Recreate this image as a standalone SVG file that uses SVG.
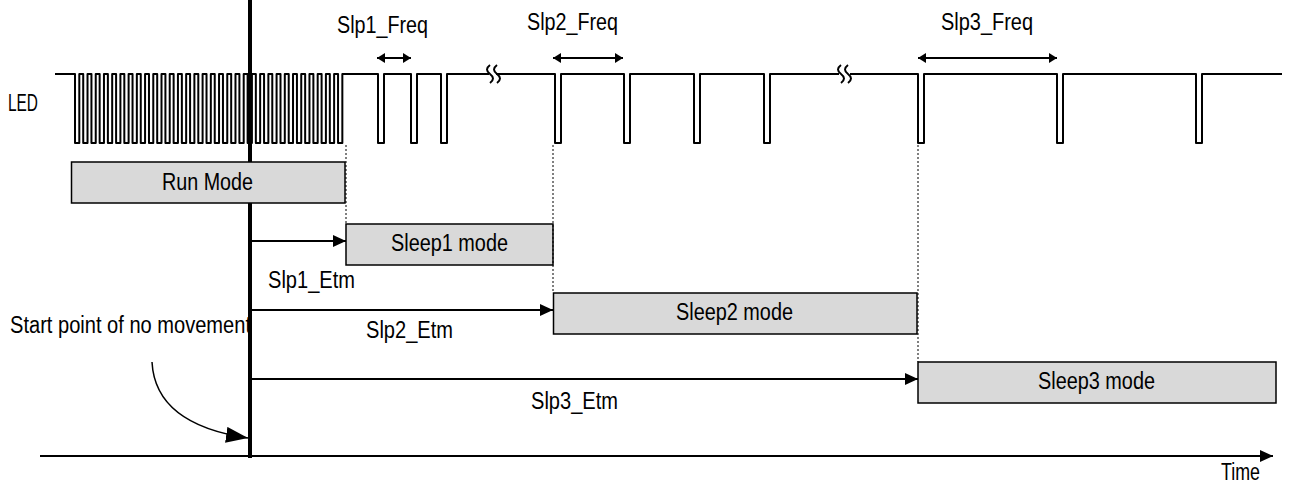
<svg xmlns="http://www.w3.org/2000/svg" width="1289" height="493" viewBox="0 0 1289 493">
<style>
text{font-family:"Liberation Sans",Arial,sans-serif;font-size:23px;fill:#000}
.wave{fill:none;stroke:#000;stroke-width:2;stroke-linejoin:round}
.box{fill:#d9d9d9;stroke:#000;stroke-width:1.5}
.dot{stroke:#000;stroke-width:1;stroke-dasharray:2,2;fill:none}
.arr{stroke:#000;stroke-width:2;fill:none}
</style>
<defs>
<marker id="ah" markerUnits="userSpaceOnUse" markerWidth="14" markerHeight="12" refX="13" refY="6" orient="auto"><path d="M0,0 L13,6 L0,12 z" fill="#000"/></marker>
<marker id="dh" markerUnits="userSpaceOnUse" markerWidth="9" markerHeight="10" refX="8" refY="5" orient="auto-start-reverse"><path d="M0,0 L8,5 L0,10 z" fill="#000"/></marker>
<marker id="bh" markerUnits="userSpaceOnUse" markerWidth="24" markerHeight="16" refX="22" refY="8" orient="auto"><path d="M0,0 L22,8 L0,16 z" fill="#000"/></marker>
</defs>

<g id="led-label"><text x="8" y="111" textLength="30" lengthAdjust="spacingAndGlyphs">LED</text></g>

<g id="led-wave">
<path class="wave" d="M55,74 H75 v69h4.3v-69h3.92 v69h4.3v-69h3.92 v69h4.3v-69h3.92 v69h4.3v-69h3.92 v69h4.3v-69h3.92 v69h4.3v-69h3.92 v69h4.3v-69h3.92 v69h4.3v-69h3.92 v69h4.3v-69h3.92 v69h4.3v-69h3.92 v69h4.3v-69h3.92 v69h4.3v-69h3.92 v69h4.3v-69h3.92 v69h4.3v-69h3.92 v69h4.3v-69h3.92 v69h4.3v-69h3.92 v69h4.3v-69h3.92 v69h4.3v-69h3.92 v69h4.3v-69h3.92 v69h4.3v-69h3.92 v69h4.3v-69h3.92 v69h4.3v-69h3.92 v69h4.3v-69h3.92 v69h4.3v-69h3.92 v69h4.3v-69h3.92 v69h4.3v-69h3.92 v69h4.3v-69h3.92 v69h4.3v-69h3.92 v69h4.3v-69h3.92 v69h4.3v-69h3.92 v69h4.3v-69h3.92 v69h4.3v-69h3.92 v69h4.3v-69 H378 V143 h6 V74 H411 V143 h6 V74 H441 V143 h6 V74 H489"/>
<path class="wave" d="M496,74 H555 V143 h6 V74 H624 V143 h6 V74 H694 V143 h6 V74 H764 V143 h6 V74 H839"/>
<path class="wave" d="M850,74 H918 V143 h6 V74 H1057 V143 h6 V74 H1196 V143 h6 V74 H1282"/>
<path class="wave" d="M490,65 c-4,3 -4,6 0,9 c4,3 4,6 0,9"/>
<path class="wave" d="M497,65 c-4,3 -4,6 0,9 c4,3 4,6 0,9"/>
<path class="wave" d="M841,65 c-4,3 -4,6 0,9 c4,3 4,6 0,9"/>
<path class="wave" d="M848,65 c-4,3 -4,6 0,9 c4,3 4,6 0,9"/>
</g>

<g id="freq-labels">
<text x="337" y="33" textLength="91" lengthAdjust="spacingAndGlyphs">Slp1_Freq</text>
<text x="527" y="30" textLength="91" lengthAdjust="spacingAndGlyphs">Slp2_Freq</text>
<text x="941" y="30" textLength="92" lengthAdjust="spacingAndGlyphs">Slp3_Freq</text>
</g>

<g id="start-label"><text x="10" y="333" textLength="241" lengthAdjust="spacingAndGlyphs">Start point of no movement</text></g>

<g id="time-marker"><line x1="250" y1="0" x2="250" y2="458" stroke="#000" stroke-width="4"/></g>

<g id="run-mode"><rect class="box" x="71.5" y="162" width="273.5" height="41"/><text x="162" y="190" textLength="91" lengthAdjust="spacingAndGlyphs">Run Mode</text></g>
<g id="sleep1-mode"><rect class="box" x="346" y="224" width="207" height="41"/><text x="391" y="251" textLength="117" lengthAdjust="spacingAndGlyphs">Sleep1 mode</text></g>
<g id="sleep2-mode"><rect class="box" x="553.5" y="293" width="363.5" height="41"/><text x="676" y="320" textLength="117" lengthAdjust="spacingAndGlyphs">Sleep2 mode</text></g>
<g id="sleep3-mode"><rect class="box" x="918" y="362" width="358" height="41"/><text x="1038" y="389" textLength="117" lengthAdjust="spacingAndGlyphs">Sleep3 mode</text></g>

<g id="etm-labels">
<text x="268" y="288" textLength="87" lengthAdjust="spacingAndGlyphs">Slp1_Etm</text>
<text x="366" y="338" textLength="87" lengthAdjust="spacingAndGlyphs">Slp2_Etm</text>
<text x="531" y="409" textLength="87" lengthAdjust="spacingAndGlyphs">Slp3_Etm</text>
</g>

<g id="time-label"><text x="1221" y="480" textLength="39" lengthAdjust="spacingAndGlyphs">Time</text></g>

<g id="connectors">
<line class="dot" x1="346" y1="145" x2="346" y2="224"/>
<line class="dot" x1="553" y1="145" x2="553" y2="293"/>
<line class="dot" x1="918" y1="145" x2="918" y2="362"/>
<line class="arr" x1="377" y1="58" x2="411" y2="58" marker-start="url(#dh)" marker-end="url(#dh)"/>
<line class="arr" x1="553" y1="58" x2="623" y2="58" marker-start="url(#dh)" marker-end="url(#dh)"/>
<line class="arr" x1="918" y1="58" x2="1057" y2="58" marker-start="url(#dh)" marker-end="url(#dh)"/>
<line class="arr" x1="252" y1="241" x2="346" y2="241" marker-end="url(#ah)"/>
<line class="arr" x1="252" y1="310" x2="553" y2="310" marker-end="url(#ah)"/>
<line class="arr" x1="252" y1="379" x2="918" y2="379" marker-end="url(#ah)"/>
<line class="arr" x1="40" y1="456" x2="1273" y2="456" marker-end="url(#ah)"/>
<path fill="none" stroke="#000" stroke-width="1.5" d="M152,362 C154,400 180,428 248,438" marker-end="url(#bh)"/>
</g>
</svg>
